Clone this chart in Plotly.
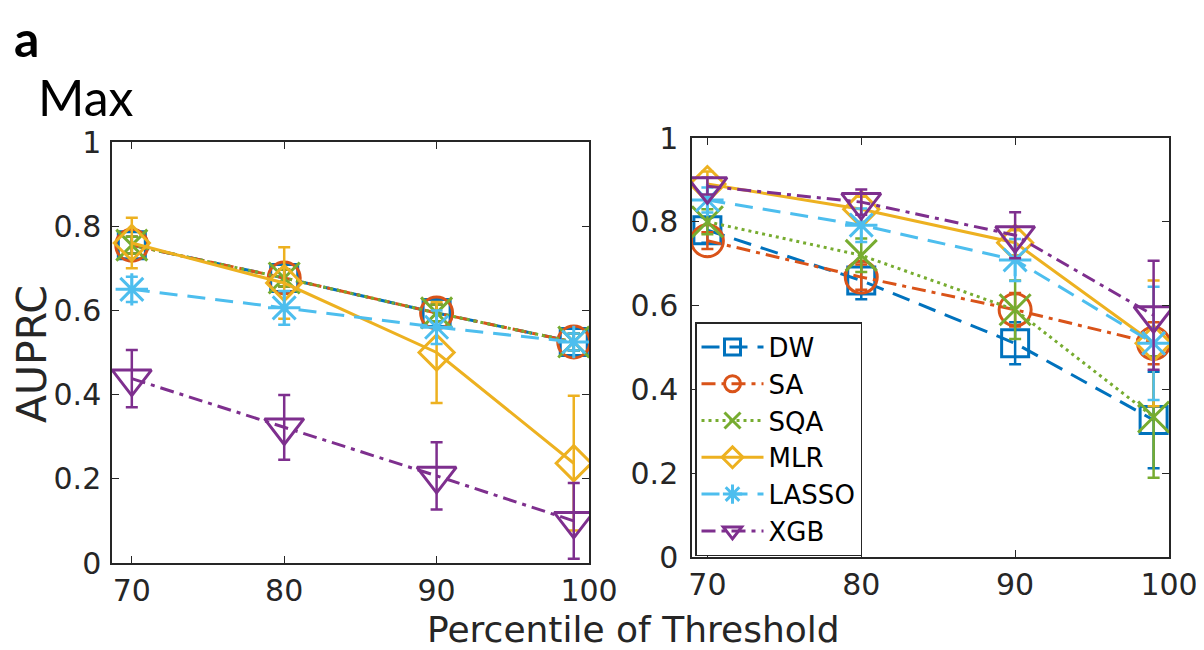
import plotly.graph_objects as go

# ---------------- data ----------------
thresholds = [70, 80, 90, 99]
methods = ["DW", "SA", "SQA", "MLR", "LASSO", "XGB"]

# left panel values (mean AUPRC)
left_DW = [0.755, 0.677, 0.594, 0.525]
left_SA = [0.755, 0.677, 0.594, 0.525]
left_SQA = [0.755, 0.677, 0.594, 0.525]
left_MLR = [0.76, 0.665, 0.50, 0.237]
left_LASSO = [0.65, 0.606, 0.56, 0.525]
left_XGB = [0.438, 0.322, 0.207, 0.10]

# left panel error half-widths
left_DW_err = [0.02, 0.02, 0.02, 0.02]
left_SA_err = [0.02, 0.02, 0.02, 0.02]
left_SQA_err = [0.02, 0.02, 0.02, 0.02]
left_MLR_err = [0.06, 0.085, 0.12, 0.16]
left_LASSO_err = [0.03, 0.04, 0.04, 0.02]
left_XGB_err = [0.068, 0.077, 0.08, 0.09]

# right panel values
right_DW = [0.78, 0.66, 0.51, 0.327]
right_SA = [0.755, 0.668, 0.59, 0.51]
right_SQA = [0.80, 0.72, 0.59, 0.334]
right_MLR = [0.89, 0.83, 0.75, 0.51]
right_LASSO = [0.852, 0.792, 0.709, 0.51]
right_XGB = [0.885, 0.847, 0.768, 0.577]

# right panel error half-widths
right_DW_err = [0.03, 0.045, 0.05, 0.115]
right_SA_err = [0.02, 0.03, 0.04, 0.05]
right_SQA_err = [0.03, 0.04, 0.07, 0.145]
right_MLR_err = [0.03, 0.03, 0.03, 0.15]
right_LASSO_err = [0.03, 0.04, 0.05, 0.135]
right_XGB_err = [0.02, 0.03, 0.055, 0.13]

y_ticks = [0, 0.2, 0.4, 0.6, 0.8, 1]
y_ticktext = ["0", "0.2", "0.4", "0.6", "0.8", "1"]
x_ticks = [70, 80, 90, 100]
x_ticktext = ["70", "80", "90", "100"]

panel_title = "Max"
panel_letter = "a"
x_title = "Percentile of Threshold"
y_title = "AUPRC"

# ---------------- styles ----------------
colors = {"DW": "#0072BD", "SA": "#D95319", "SQA": "#77AC30",
          "MLR": "#EDB120", "LASSO": "#4DBEEE", "XGB": "#7E2F8E"}
dashes = {"DW": "18px,10px", "SA": "14px,6px,4px,6px", "SQA": "3px,4px",
          "MLR": "solid", "LASSO": "18px,10px", "XGB": "14px,6px,4px,6px"}
symbols = {"DW": "square-open", "SA": "circle-open", "SQA": "x-thin-open",
           "MLR": "diamond-open", "LASSO": "asterisk-open", "XGB": "triangle-down-open"}
sizes = {"DW": 27, "SA": 32, "SQA": 31, "MLR": 27, "LASSO": 27, "XGB": 34}

left_vals = {"DW": (left_DW, left_DW_err), "SA": (left_SA, left_SA_err),
             "SQA": (left_SQA, left_SQA_err), "MLR": (left_MLR, left_MLR_err),
             "LASSO": (left_LASSO, left_LASSO_err), "XGB": (left_XGB, left_XGB_err)}
right_vals = {"DW": (right_DW, right_DW_err), "SA": (right_SA, right_SA_err),
              "SQA": (right_SQA, right_SQA_err), "MLR": (right_MLR, right_MLR_err),
              "LASSO": (right_LASSO, right_LASSO_err), "XGB": (right_XGB, right_XGB_err)}

FONT = "DejaVu Sans"
AX = "#262626"
W, H = 1204, 650
OFF = 8  # page body margin offset


def px(x):
    return (x - OFF) / W


def py(y):
    return 1 - (y - OFF) / H


fig = go.Figure()

for panel, vals, xa, ya, show in [("L", left_vals, "x", "y", False),
                                  ("R", right_vals, "x2", "y2", True)]:
    for m in methods:
        v, e = vals[m]
        fig.add_trace(go.Scatter(
            x=thresholds, y=v, name=m, xaxis=xa, yaxis=ya,
            mode="lines+markers", showlegend=show, legendgroup=m,
            line=dict(color=colors[m], width=3, dash=dashes[m]),
            marker=dict(symbol=symbols[m], size=sizes[m],
                        color=colors[m], line=dict(color=colors[m], width=3)),
            error_y=dict(type="data", array=e, visible=True,
                         color=colors[m], thickness=2.5, width=6),
        ))

axis_common = dict(showline=True, linecolor=AX, linewidth=1.5, mirror="allticks",
                   ticks="inside", ticklen=7, tickwidth=1.2, tickcolor=AX,
                   showgrid=False, zeroline=False, automargin=False,
                   tickfont=dict(family=FONT, size=30, color=AX))

fig.update_layout(
    template="none",
    width=W, height=H,
    margin=dict(l=0, r=0, t=0, b=0, pad=0, autoexpand=False),
    paper_bgcolor="white", plot_bgcolor="white",
    xaxis=dict(domain=[px(112), px(589)], range=[68.7, 100],
               tickvals=x_ticks, ticktext=x_ticktext, anchor="y", **axis_common),
    yaxis=dict(domain=[py(563), py(142)], range=[0, 1], ticklabelstandoff=3,
               tickvals=y_ticks, ticktext=y_ticktext, anchor="x", **axis_common),
    xaxis2=dict(domain=[px(692), px(1169)], range=[69, 100],
                tickvals=x_ticks, ticktext=x_ticktext, anchor="y2", **axis_common),
    yaxis2=dict(domain=[py(557), py(138)], range=[0, 1], ticklabelstandoff=6,
                tickvals=y_ticks, ticktext=y_ticktext, anchor="x2", **axis_common),
    legend=dict(x=px(695), y=py(322), xanchor="left", yanchor="top",
                bgcolor="white", bordercolor=AX, borderwidth=1.5,
                font=dict(family=FONT, size=26, color="black"),
                tracegroupgap=0, itemwidth=62),
    annotations=[
        dict(text="<b>" + panel_letter + "</b>", x=px(12), y=py(38), xref="paper", yref="paper",
             xanchor="left", yanchor="middle", showarrow=False,
             font=dict(family="Lato", size=50, color="black")),
        dict(text=panel_title, x=px(36), y=py(97), xref="paper", yref="paper",
             xanchor="left", yanchor="middle", showarrow=False,
             font=dict(family="Lato", size=50, color="black")),
        dict(text=x_title, x=px(633), y=py(629), xref="paper", yref="paper",
             xanchor="center", yanchor="middle", showarrow=False,
             font=dict(family=FONT, size=36, color=AX)),
        dict(text=y_title, x=px(32), y=py(354), xref="paper", yref="paper",
             xanchor="center", yanchor="middle", showarrow=False, textangle=-90,
             font=dict(family=FONT, size=41, color=AX)),
    ],
)

fig.write_html("out.html")
